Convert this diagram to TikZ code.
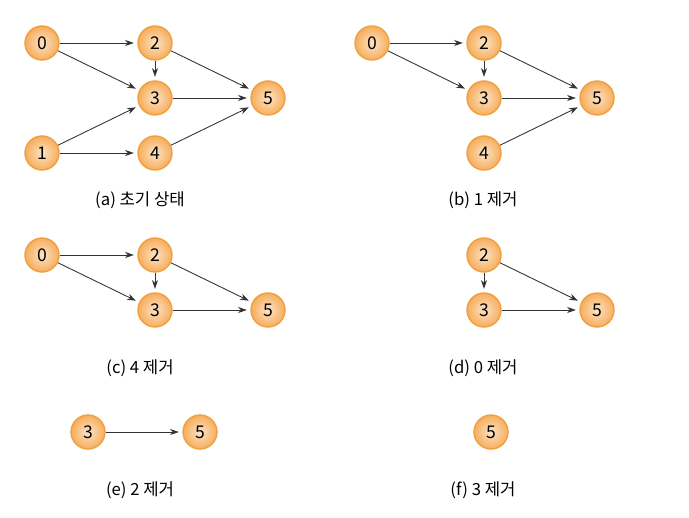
\documentclass[tikz,border=0pt]{standalone}
\usepackage{fontspec}
\setmainfont{Noto Sans CJK KR}
\usepackage{tikz}
\usetikzlibrary{arrows.meta}
\definecolor{ballin}{HTML}{FDE3C6}
\definecolor{ballout}{HTML}{F6AE5C}
\definecolor{ballrim}{HTML}{F0A040}
\definecolor{edgecol}{HTML}{333333}

\begin{document}
\begin{tikzpicture}[
		x=0.02cm, y=-0.02cm,
		vtx/.style={circle, draw=ballrim, line width=0.8pt, inner color=ballin, outer color=ballout, minimum size=0.68cm, inner sep=0pt, font=\fontsize{10}{12}\selectfont},
		caption/.style={font=\fontsize{9.5}{11}\selectfont},
		arrow/.style={-{Stealth[length=5pt,width=3.5pt]}, edgecol, line width=0.5pt, shorten >=2pt}
	]
		\useasboundingbox (0,0) rectangle (689,517);
		
		% (a) initial
		\node[vtx] (a0) at (42,43) {0};
		\node[vtx] (a2) at (155,43) {2};
		\node[vtx] (a3) at (155,98) {3};
		\node[vtx] (a1) at (42,153) {1};
		\node[vtx] (a4) at (155,153) {4};
		\node[vtx] (a5) at (268,98) {5};
		\draw[arrow] (a0) -- (a2);
		\draw[arrow] (a0) -- (a3);
		\draw[arrow] (a2) -- (a3);
		\draw[arrow] (a2) -- (a5);
		\draw[arrow] (a3) -- (a5);
		\draw[arrow] (a1) -- (a3);
		\draw[arrow] (a1) -- (a4);
		\draw[arrow] (a4) -- (a5);
		\node[caption] (capa) at (140,200) {(a) 초기 상태};
		
		% (b) remove 1
		\node[vtx] (b0) at (372,43) {0};
		\node[vtx] (b2) at (484,43) {2};
		\node[vtx] (b3) at (484,98) {3};
		\node[vtx] (b4) at (484,153) {4};
		\node[vtx] (b5) at (597,98) {5};
		\draw[arrow] (b0) -- (b2);
		\draw[arrow] (b0) -- (b3);
		\draw[arrow] (b2) -- (b3);
		\draw[arrow] (b2) -- (b5);
		\draw[arrow] (b3) -- (b5);
		\draw[arrow] (b4) -- (b5);
		\node[caption] (capb) at (483,200) {(b) 1 제거};
		
		% (c) remove 4
		\node[vtx] (c0) at (42,255) {0};
		\node[vtx] (c2) at (155,255) {2};
		\node[vtx] (c3) at (155,310) {3};
		\node[vtx] (c5) at (268,310) {5};
		\draw[arrow] (c0) -- (c2);
		\draw[arrow] (c0) -- (c3);
		\draw[arrow] (c2) -- (c3);
		\draw[arrow] (c2) -- (c5);
		\draw[arrow] (c3) -- (c5);
		\node[caption] (capc) at (140,368) {(c) 4 제거};
		
		% (d) remove 0
		\node[vtx] (d2) at (484,255) {2};
		\node[vtx] (d3) at (484,310) {3};
		\node[vtx] (d5) at (597,310) {5};
		\draw[arrow] (d2) -- (d3);
		\draw[arrow] (d2) -- (d5);
		\draw[arrow] (d3) -- (d5);
		\node[caption] (capd) at (483,368) {(d) 0 제거};
		
		% (e) remove 2
		\node[vtx] (e3) at (88,432) {3};
		\node[vtx] (e5) at (200,432) {5};
		\draw[arrow] (e3) -- (e5);
		\node[caption] (cape) at (140,490) {(e) 2 제거};
		
		% (f) remove 3
		\node[vtx] (f5) at (491,432) {5};
		\node[caption] (capf) at (483,490) {(f) 3 제거};
	\end{tikzpicture}
\end{document}
